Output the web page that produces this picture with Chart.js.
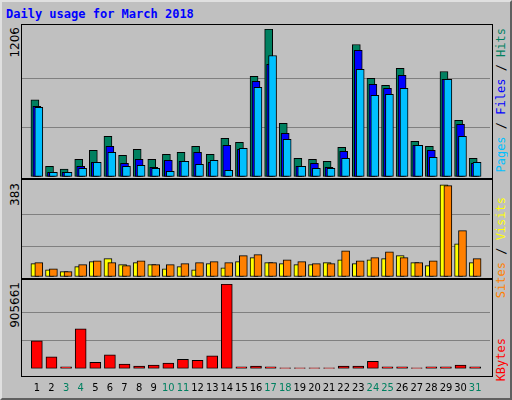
<!DOCTYPE html>
<html>
<head>
<meta charset="utf-8">
<script src="https://cdn.jsdelivr.net/npm/chart.js@4"></script>
<style>
body { margin: 0; }
#frame { position: absolute; left: 0; top: 0; width: 508px; height: 396px; background: #c0c0c0;
  border: 2px solid; border-color: #e0e0e0 #606060 #606060 #e0e0e0; }
.box { position: absolute; left: 21px; width: 470px; border: 1px solid #000; background: #c0c0c0; }
canvas { position: absolute; }
.vl { position: absolute; writing-mode: vertical-rl; transform: rotate(180deg); white-space: nowrap;
  font: 12px "DejaVu Sans Mono", monospace; }
.yl { position: absolute; writing-mode: vertical-rl; transform: rotate(180deg); white-space: nowrap;
  font: 12px "DejaVu Sans", sans-serif; color: #000; }
#title { position: absolute; left: 6px; top: 7px; font: bold 12px "DejaVu Sans Mono", monospace; color: #0000ff; }
</style>
</head>
<body>
<div id="frame"></div>
<div id="title">Daily usage for March 2018</div>
<div class="box" style="top:24px;height:153px"></div>
<div class="box" style="top:179px;height:98px"></div>
<div class="box" style="top:279px;height:96px"></div>
<div class="yl" style="left:8px;top:27px">1206</div>
<div class="yl" style="left:8px;top:183px">383</div>
<div class="yl" style="left:8px;top:282px">905661</div>
<div class="vl" style="left:494px;top:28px"><span style="color:#00c0ff">Pages</span><span style="color:#000"> / </span><span style="color:#0000ff">Files</span><span style="color:#000"> / </span><span style="color:#008060">Hits</span></div>
<div class="vl" style="left:494px;top:197px"><span style="color:#ff8000">Sites</span><span style="color:#000"> / </span><span style="color:#ffff00">Visits</span></div>
<div class="vl" style="left:494px;top:338px"><span style="color:#ff0000">KBytes</span></div>
<canvas id="c1" style="left:22px;top:29px;width:468px;height:148px"></canvas>
<canvas id="c2" style="left:22px;top:184px;width:468px;height:93px"></canvas>
<canvas id="c3" style="left:22px;top:284px;width:468px;height:116px"></canvas>
<script>
const days = [];
for (let d = 1; d <= 31; d++) days.push(d);
const weekend = [3, 4, 10, 11, 17, 18, 24, 25, 31];

const hits  = [628, 87, 65, 144, 217, 331, 177, 225, 144, 185, 201, 250, 185, 315, 282, 820, 1206, 437, 152, 144, 128, 241, 1080, 804, 748, 885, 290, 250, 860, 462, 152];
const files = [575, 38, 38, 87, 120, 250, 111, 144, 79, 136, 128, 201, 120, 258, 225, 780, 918, 356, 87, 111, 79, 209, 1032, 755, 723, 828, 258, 217, 795, 429, 111];
const pages = [568, 38, 38, 71, 120, 201, 87, 95, 71, 46, 128, 103, 136, 54, 233, 730, 990, 307, 87, 71, 71, 152, 877, 666, 674, 723, 258, 160, 795, 331, 120];
const visits = [55, 30, 22, 43, 63, 76, 51, 59, 51, 34, 43, 30, 55, 38, 63, 80, 59, 55, 51, 51, 59, 71, 55, 71, 76, 88, 59, 47, 380, 137, 59];
const sites  = [59, 34, 22, 51, 67, 59, 47, 67, 51, 51, 55, 59, 63, 59, 88, 92, 59, 71, 63, 55, 55, 108, 67, 80, 104, 80, 59, 67, 376, 191, 76];
const kbytes = [298000, 129000, 20000, 428000, 70000, 149000, 50000, 30000, 40000, 60000, 100000, 90000, 139000, 905661, 20000, 30000, 20000, 10000, 10000, 10000, 10000, 30000, 30000, 80000, 20000, 20000, 10000, 20000, 20000, 40000, 20000];
const maxTop = 1206, maxMid = 383, maxBot = 905661;

function pts(vals, off) {
    return vals.map((v, i) => ({ x: days[i] + off, y: v }));
}
function ds(vals, off, color, w, ord) {
    return { data: pts(vals, off), backgroundColor: color, borderColor: '#000', borderWidth: 1,
        borderSkipped: false, barThickness: w, order: ord, grouped: false };
}
function opts(max, showX) {
    return {
        responsive: false, animation: false,
        layout: { padding: 0 },
        plugins: { legend: { display: false }, tooltip: { enabled: false } },
        scales: {
            x: { type: 'linear', min: 0.5, max: 31.5, display: showX,
                grid: { display: false }, border: { display: false },
                afterBuildTicks: s => { s.ticks = days.map(d => ({ value: d })); },
                ticks: { padding: 5, autoSkip: false, maxRotation: 0,
                    font: { family: 'DejaVu Sans Condensed', size: 11 },
                    color: c => weekend.includes(c.tick.value) ? '#008060' : '#000' } },
            y: { min: 0, max: max, display: true,
                afterBuildTicks: s => { s.ticks = [0, max / 3, max * 2 / 3].map(v => ({ value: v })); },
                ticks: { display: false }, border: { display: false },
                grid: { color: c => c.tick.value === 0 ? 'rgba(0,0,0,0)' : '#808080', lineWidth: 1, drawTicks: false } }
        }
    };
}
function mk(id, w, h, cfg) {
    const c = document.getElementById(id);
    c.width = w; c.height = h;
    return new Chart(c, cfg);
}
mk('c1', 468, 148, { type: 'bar', data: { datasets: [
    ds(pages, 0.133, '#00c0ff', 8, 1),
    ds(files, 0, '#0000ff', 8, 2),
    ds(hits, -0.133, '#008060', 8, 3)
] }, options: opts(maxTop, false) });
mk('c2', 468, 93, { type: 'bar', data: { datasets: [
    ds(sites, 0.133, '#ff8000', 8, 1),
    ds(visits, -0.133, '#ffff00', 8, 2)
] }, options: opts(maxMid, false) });
mk('c3', 468, 116, { type: 'bar', data: { datasets: [
    ds(kbytes, 0, '#ff0000', 11, 1)
] }, options: opts(maxBot, true) });
</script>
</body>
</html>
